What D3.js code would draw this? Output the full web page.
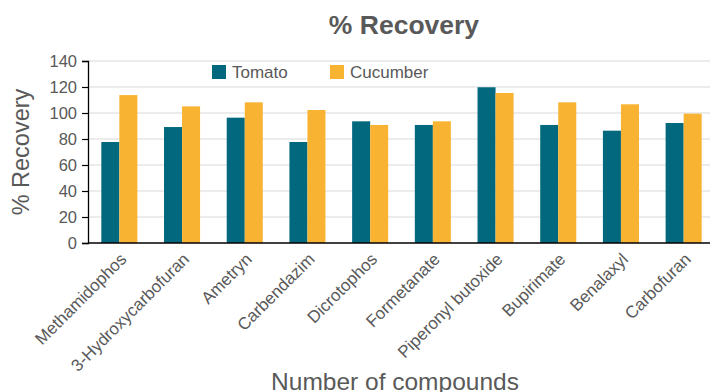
<!DOCTYPE html>
<html>
<head>
<meta charset="utf-8">
<script src="https://cdn.jsdelivr.net/npm/d3@7"></script>
<style>
  html, body { margin: 0; padding: 0; background: #fff; }
  svg { display: block; font-family: "Liberation Sans", Arial, Helvetica, sans-serif; }
</style>
</head>
<body>
<svg id="chart" width="710" height="392"></svg>
<script>
// Recovery (%) of each compound spiked into two matrices
const compounds = ["Methamidophos", "3-Hydroxycarbofuran", "Ametryn", "Carbendazim", "Dicrotophos",
                   "Formetanate", "Piperonyl butoxide", "Bupirimate", "Benalaxyl", "Carbofuran"];
const seriesNames = ["Tomato", "Cucumber"];
const tomato   = [77.7, 89.2, 96.4, 77.7, 93.6, 90.8, 119.8, 90.8, 86.4, 92.3];
const cucumber = [113.8, 105.1, 108.2, 102.3, 90.8, 93.6, 115.4, 108.2, 106.7, 99.5];
const yTicks = [0, 20, 40, 60, 80, 100, 120, 140];

const colors = { Tomato: "#01687e", Cucumber: "#f8b333" };
const textColor = "#595959";

const svg = d3.select("#chart");
const W = 710, H = 392;
const margin = { left: 88, right: -5, top: 61, bottom: 149 };
const plotBottom = H - margin.bottom;   // y of the zero line

const x = d3.scaleBand()
  .domain(compounds)
  .range([margin.left, W - margin.right])
  .paddingInner(0.425)
  .paddingOuter(0.2125);

const xs = d3.scaleBand()
  .domain(seriesNames)
  .range([0, x.bandwidth()]);

const y = d3.scaleLinear()
  .domain([0, 140])
  .range([plotBottom, margin.top]);

// horizontal gridlines
svg.append("g")
  .selectAll("line")
  .data(yTicks.filter(d => d > 0))
  .join("line")
  .attr("x1", margin.left)
  .attr("x2", W)
  .attr("y1", d => y(d))
  .attr("y2", d => y(d))
  .attr("stroke", "#d9d9d9")
  .attr("stroke-width", 1.2);

// bars
const rows = compounds.map((c, i) => ({ compound: c, Tomato: tomato[i], Cucumber: cucumber[i] }));
svg.append("g")
  .selectAll("g")
  .data(rows)
  .join("g")
  .attr("transform", d => `translate(${x(d.compound)},0)`)
  .selectAll("rect")
  .data(d => seriesNames.map(s => ({ s, v: d[s] })))
  .join("rect")
  .attr("x", d => xs(d.s))
  .attr("width", xs.bandwidth())
  .attr("y", d => y(d.v))
  .attr("height", d => y(0) - y(d.v))
  .attr("fill", d => colors[d.s]);

// y axis
const yAxis = svg.append("g")
  .attr("transform", `translate(${margin.left},0)`)
  .call(d3.axisLeft(y).tickValues(yTicks).tickSize(6).tickPadding(5).tickFormat(d3.format("d")));
yAxis.select(".domain").attr("stroke", "#000").attr("stroke-width", 1.3);
yAxis.selectAll(".tick line").attr("stroke", "#000").attr("stroke-width", 1.2);
yAxis.selectAll(".tick text")
  .attr("fill", textColor)
  .style("font-size", "16.5px")
  .style("font-family", "'Liberation Sans', Arial, sans-serif");

// x axis baseline
svg.append("line")
  .attr("x1", margin.left)
  .attr("x2", W)
  .attr("y1", y(0))
  .attr("y2", y(0))
  .attr("stroke", "#000")
  .attr("stroke-width", 1.5);

// category labels, rotated
svg.append("g")
  .selectAll("text")
  .data(compounds)
  .join("text")
  .attr("transform", d => `translate(${x(d) + x.bandwidth() / 2 + 4},${plotBottom + 13}) rotate(-45)`)
  .attr("text-anchor", "end")
  .attr("dy", "0.35em")
  .attr("fill", textColor)
  .style("font-size", "17px")
  .text(d => d);

// chart title
svg.append("text")
  .attr("x", 404)
  .attr("y", 34)
  .attr("text-anchor", "middle")
  .attr("fill", textColor)
  .style("font-size", "26.5px")
  .style("font-weight", "bold")
  .text("% Recovery");

// y axis title
svg.append("text")
  .attr("transform", "translate(28.5,152) rotate(-90)")
  .attr("text-anchor", "middle")
  .attr("fill", textColor)
  .style("font-size", "23.5px")
  .text("% Recovery");

// x axis title
svg.append("text")
  .attr("x", 395)
  .attr("y", 390)
  .attr("text-anchor", "middle")
  .attr("fill", textColor)
  .style("font-size", "24.5px")
  .text("Number of compounds");

// legend
const legendX = [212, 330];
const legend = svg.append("g")
  .selectAll("g")
  .data(seriesNames)
  .join("g")
  .attr("transform", (d, i) => `translate(${legendX[i]},65)`);
legend.append("rect")
  .attr("width", 14)
  .attr("height", 14)
  .attr("fill", d => colors[d]);
legend.append("text")
  .attr("x", 20)
  .attr("y", 12.5)
  .attr("fill", textColor)
  .style("font-size", "17px")
  .text(d => d);
</script>
</body>
</html>
